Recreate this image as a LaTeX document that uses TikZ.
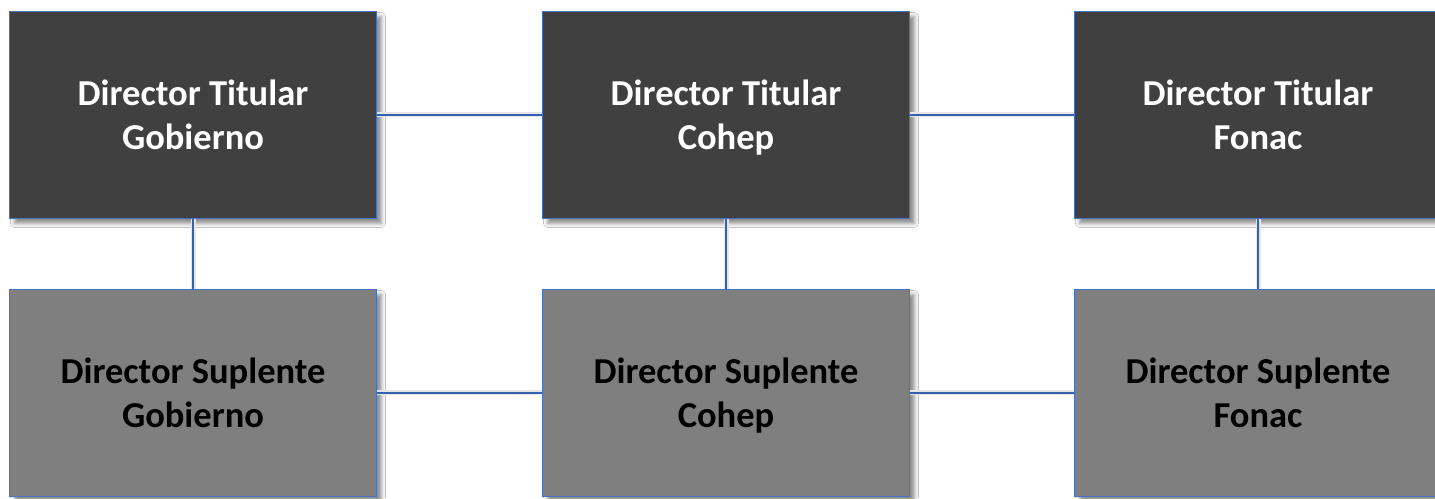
\documentclass[tikz,border=0pt]{standalone}
\usepackage{fontspec}
\setmainfont{Carlito}
\usetikzlibrary{shadows.blur}
\definecolor{bordblue}{RGB}{68,114,196}
\definecolor{linkblue}{RGB}{52,96,176}
\definecolor{darkbox}{RGB}{64,64,64}
\definecolor{graybox}{RGB}{127,127,127}
\newcommand{\topstrut}{\rule{0pt}{38.8pt}}
\tikzset{
  box/.style={draw=bordblue, line width=1.5pt, minimum width=367pt, minimum height=207pt,
    inner sep=0pt, align=center, font=\fontsize{36.5}{44}\selectfont\bfseries,
    blur shadow={shadow xshift=5pt, shadow yshift=-5pt, shadow blur radius=4pt, shadow opacity=45}},
  titular/.style={box, fill=darkbox, text=white},
  suplente/.style={box, fill=graybox, text=black},
  link/.style={draw=linkblue, line width=2pt},
  linkshadow/.style={draw=black!10, line width=5pt},
}
\begin{document}
\begin{tikzpicture}[x=1pt,y=1pt]
\useasboundingbox (0,0) rectangle (1435,498);
\clip (0,0) rectangle (1435,498);
\fill[white] (0,0) rectangle (1435,498);
% boxes
\node[titular] (t1) at (193,383) {\topstrut Director Titular\\\strut Gobierno};
\node[titular] (t2) at (726,383) {\topstrut Director Titular\\\strut Cohep};
\node[titular] (t3) at (1258,383) {\topstrut Director Titular\\\strut Fonac};
\node[suplente] (s1) at (193,105) {\topstrut Director Suplente\\\strut Gobierno};
\node[suplente] (s2) at (726,105) {\topstrut Director Suplente\\\strut Cohep};
\node[suplente] (s3) at (1258,105) {\topstrut Director Suplente\\\strut Fonac};
% connector shadows
\begin{scope}[shift={(3pt,-3pt)}]
\draw[linkshadow] (t1.east) -- (t2.west);
\draw[linkshadow] (t2.east) -- (t3.west);
\draw[linkshadow] (s1.east) -- (s2.west);
\draw[linkshadow] (s2.east) -- (s3.west);
\draw[linkshadow] (t1.south) -- (s1.north);
\draw[linkshadow] (t2.south) -- (s2.north);
\draw[linkshadow] (t3.south) -- (s3.north);
\end{scope}
% connectors
\draw[link] (t1.east) -- (t2.west);
\draw[link] (t2.east) -- (t3.west);
\draw[link] (s1.east) -- (s2.west);
\draw[link] (s2.east) -- (s3.west);
\draw[link] (t1.south) -- (s1.north);
\draw[link] (t2.south) -- (s2.north);
\draw[link] (t3.south) -- (s3.north);
\end{tikzpicture}
\end{document}
